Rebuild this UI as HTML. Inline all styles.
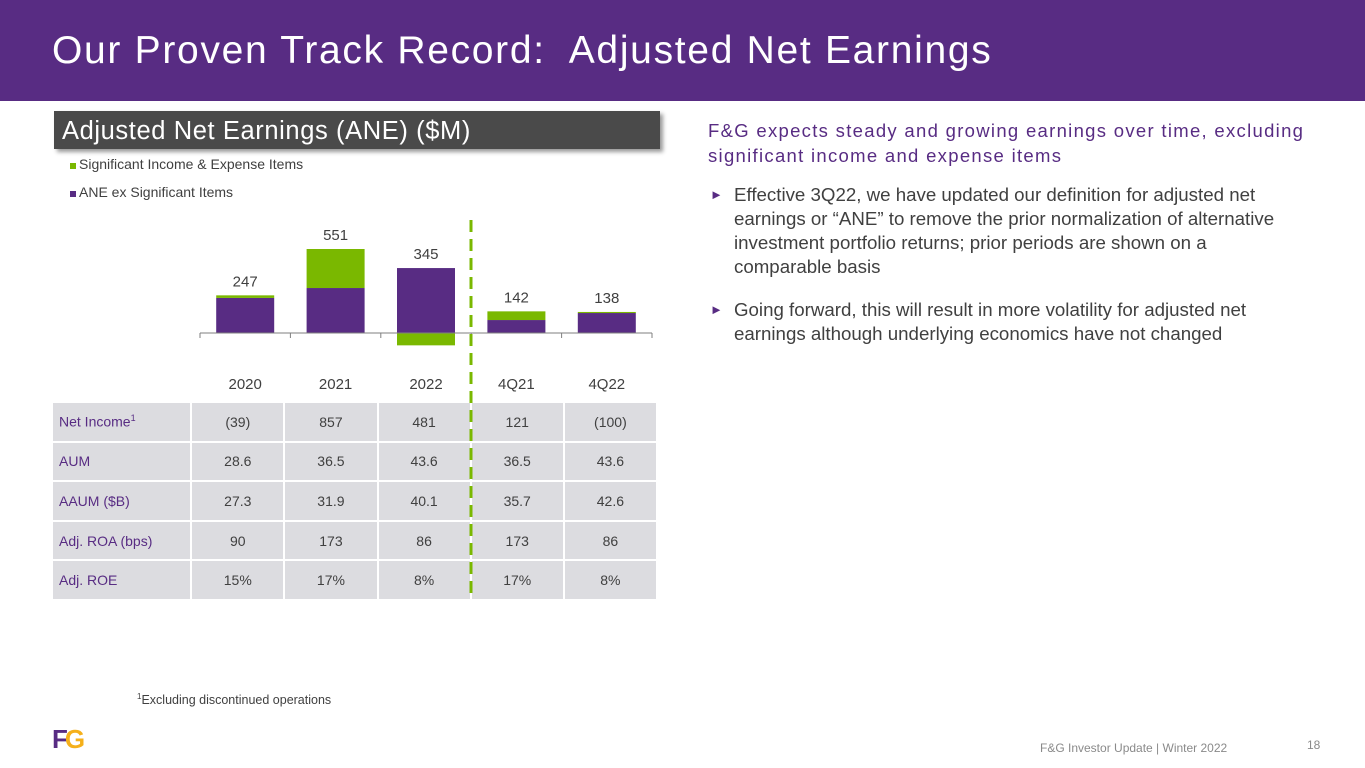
<!DOCTYPE html>
<html><head><meta charset="utf-8"><style>
body{margin:0;width:1365px;height:768px;position:relative;background:#fff;font-family:"Liberation Sans",sans-serif;overflow:hidden}
.abs{position:absolute}
table{border-collapse:collapse}
td{background:#dcdce0;border:2px solid #fff;height:37.6px;text-align:center;font-size:14px;color:#404040;padding:0}
td.l{text-align:left;padding-left:6px;color:#582c83}
</style></head><body>
<div class="abs" style="left:0;top:0;width:1365px;height:101px;background:#582c83"></div>
<div class="abs" style="left:52px;top:29px;font-size:39px;color:#fff;letter-spacing:1.7px;white-space:nowrap">Our Proven Track Record:&nbsp; Adjusted Net Earnings</div>
<div class="abs" style="left:54px;top:111px;width:606px;height:38px;background:#4a4a4a;box-shadow:3px 3px 4px #999;color:#fff;font-size:25.5px;line-height:40px;padding-left:8px;box-sizing:border-box;letter-spacing:0.6px;white-space:nowrap">Adjusted Net Earnings (ANE) ($M)</div>
<div class="abs" style="left:70px;top:156px;font-size:14px;color:#404040"><span style="display:inline-block;width:6px;height:6px;background:#7ab800;margin-right:3px"></span>Significant Income &amp; Expense Items</div>
<div class="abs" style="left:70px;top:184px;font-size:14px;color:#404040"><span style="display:inline-block;width:6px;height:6px;background:#582c83;margin-right:3px"></span>ANE ex Significant Items</div>
<svg class="abs" id="chart" style="left:0;top:0" width="700" height="620"></svg>
<table class="abs" style="left:51px;top:401px;width:607px">
<colgroup><col style="width:139px"><col style="width:93px"><col style="width:93px"><col style="width:93px"><col style="width:93px"><col style="width:93px"></colgroup>
<tr><td class="l">Net Income<sup style="font-size:9px">1</sup></td><td>(39)</td><td>857</td><td>481</td><td>121</td><td>(100)</td></tr>
<tr><td class="l">AUM</td><td>28.6</td><td>36.5</td><td>43.6</td><td>36.5</td><td>43.6</td></tr>
<tr><td class="l">AAUM ($B)</td><td>27.3</td><td>31.9</td><td>40.1</td><td>35.7</td><td>42.6</td></tr>
<tr><td class="l">Adj. ROA (bps)</td><td>90</td><td>173</td><td>86</td><td>173</td><td>86</td></tr>
<tr><td class="l">Adj. ROE</td><td>15%</td><td>17%</td><td>8%</td><td>17%</td><td>8%</td></tr>
</table>
<svg class="abs" style="left:0;top:0;pointer-events:none" width="700" height="620"><line x1="471" y1="220" x2="471" y2="600" stroke="#7ab800" stroke-width="3" stroke-dasharray="12,7"/></svg>
<div class="abs" style="left:137px;top:692px;font-size:12.5px;color:#404040"><sup style="font-size:8px">1</sup>Excluding discontinued operations</div>
<div class="abs" style="left:52px;top:726px;font-size:26px;font-weight:bold;letter-spacing:-3px;line-height:26px"><span style="color:#582c83">F</span><span style="color:#f5b01a">G</span></div>
<div class="abs" style="left:1040px;top:741px;font-size:12px;color:#8a8a8a">F&amp;G Investor Update | Winter 2022</div>
<div class="abs" style="left:1307px;top:738px;font-size:12px;color:#8a8a8a">18</div>
<div class="abs" style="left:708px;top:118px;font-size:18.5px;color:#582c83;line-height:25px;letter-spacing:1.3px;white-space:nowrap">F&amp;G expects steady and growing earnings over time, excluding<br>significant income and expense items</div>
<div class="abs" style="left:708px;top:183px;font-size:18.7px;color:#404040;line-height:24px;white-space:nowrap"><span style="position:absolute;left:2px;font-size:13px;color:#582c83">►</span><div style="margin-left:26px">Effective 3Q22, we have updated our definition for adjusted net<br>earnings or “ANE” to remove the prior normalization of alternative<br>investment portfolio returns; prior periods are shown on a<br>comparable basis</div></div>
<div class="abs" style="left:708px;top:298px;font-size:18.7px;color:#404040;line-height:24px;white-space:nowrap"><span style="position:absolute;left:2px;font-size:13px;color:#582c83">►</span><div style="margin-left:26px">Going forward, this will result in more volatility for adjusted net<br>earnings although underlying economics have not changed</div></div>
<script>
const categories=["2020","2021","2022","4Q21","4Q22"];
const aneEx=[230,295,426,85,131];
const significant=[17,256,-81,57,7];
const totals=[247,551,345,142,138];
const svg=document.getElementById('chart');
const NS='http://www.w3.org/2000/svg';
const baseY=333,scale=84/551,x0=200,step=90.4,bw=58;
const y=v=>baseY-v*scale;
const xc=i=>x0+step*(i+0.5);
function mk(t,a){const e=document.createElementNS(NS,t);for(const k in a)e.setAttribute(k,a[k]);svg.appendChild(e);return e;}
categories.forEach((c,i)=>{
 const r=mk('rect',{x:xc(i)-bw/2,y:y(aneEx[i]),width:bw,height:aneEx[i]*scale,fill:'#582c83'});
 
 
 const s=significant[i];
 const top=s>=0?y(aneEx[i]+s):baseY;
 const g=mk('rect',{x:xc(i)-bw/2,y:top,width:bw,height:Math.abs(s)*scale,fill:'#7ab800'});
 
 
 const topAll=Math.min(y(aneEx[i]+Math.max(s,0)),y(aneEx[i]));
 const t=mk('text',{x:xc(i),y:topAll-9,'text-anchor':'middle','font-size':'15','fill':'#404040','font-family':'Liberation Sans'});
 t.textContent=totals[i];
 
 
 const l=mk('text',{x:xc(i),y:389,'text-anchor':'middle','font-size':'15','fill':'#404040','font-family':'Liberation Sans'});
 l.textContent=c;
 
 
});
const ax=mk('line',{x1:x0,y1:baseY,x2:x0+step*5,y2:baseY,stroke:'#7f7f7f','stroke-width':1});


for(let i=0;i<=5;i++){const tk=mk('line',{x1:x0+step*i,y1:baseY,x2:x0+step*i,y2:baseY+5,stroke:'#7f7f7f'});

}
</script>
</body></html>
